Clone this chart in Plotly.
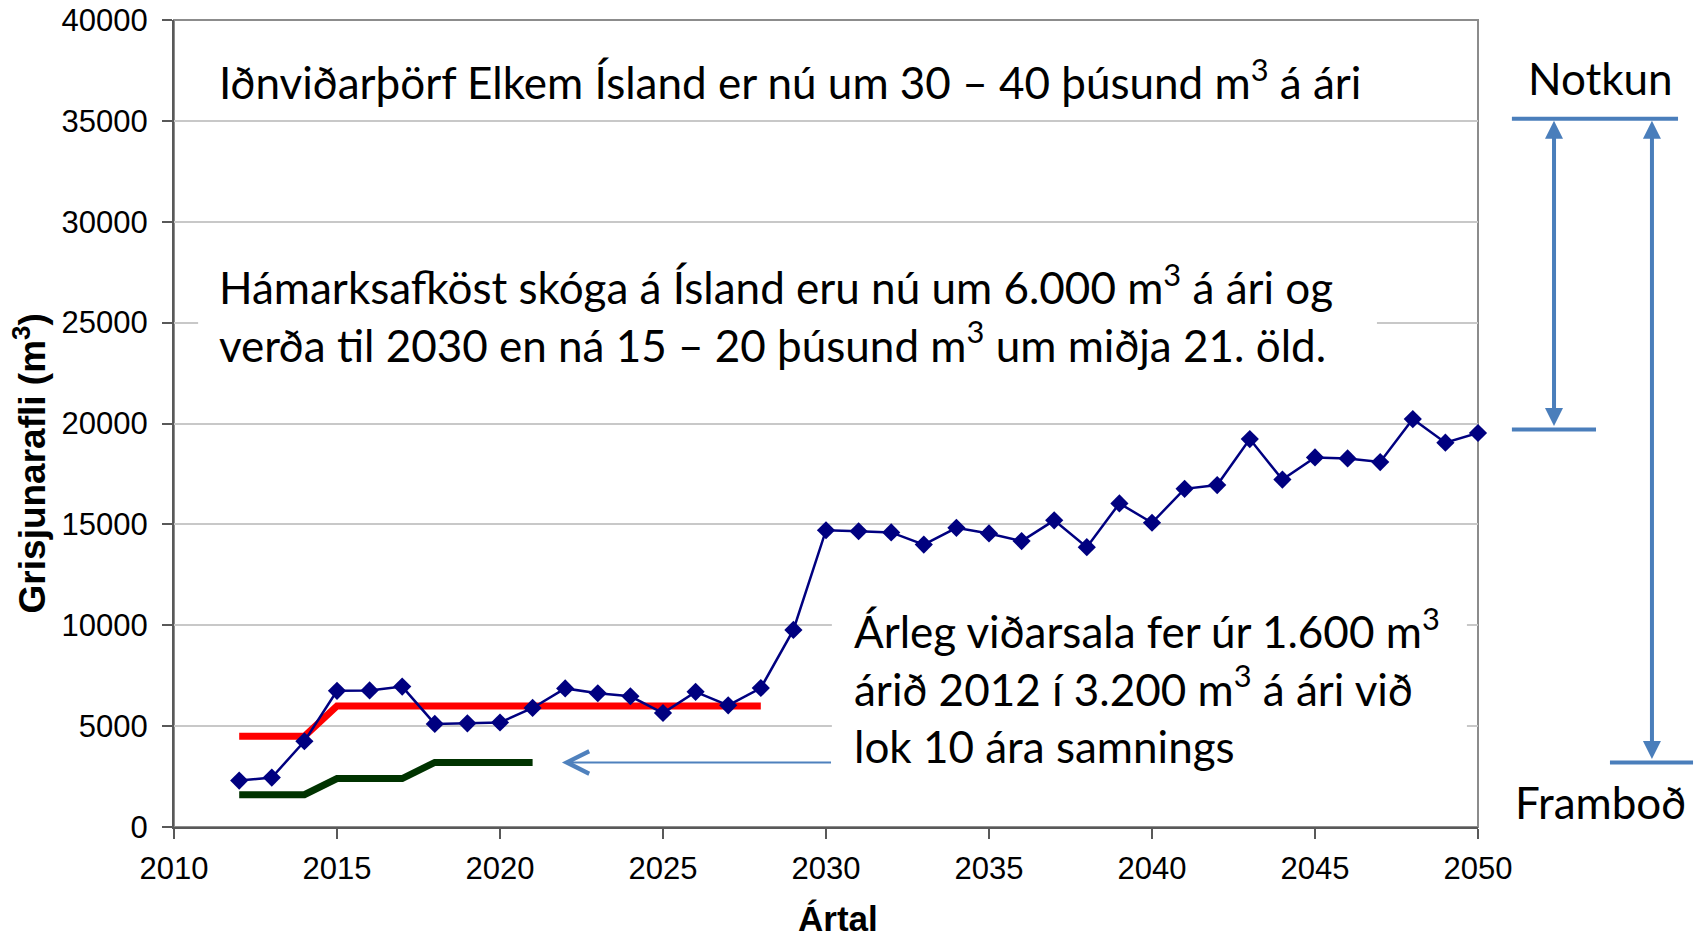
import plotly.graph_objects as go

# ---------------- data ----------------
years_demand = list(range(2012, 2051))
harvest = [2300, 2450, 4250, 6750, 6770, 6960, 5110, 5140, 5180, 5900,
           6870, 6630, 6480, 5650, 6700, 6030, 6890, 9770, 14710, 14660,
           14600, 14000, 14830, 14550, 14170, 15200, 13870, 16040, 15080, 16760,
           16950, 19230, 17220, 18320, 18270, 18090, 20220, 19050, 19530]

years_max = list(range(2012, 2029))
max_harvest = [4500, 4500, 4500] + [6000] * 14

years_sales = list(range(2012, 2022))
sales = [1600, 1600, 1600, 2400, 2400, 2400, 3200, 3200, 3200, 3200]

y_ticks = list(range(0, 40001, 5000))
x_ticks = list(range(2010, 2051, 5))

# bracket levels on the right (Notkun / Framboð)
demand_level = 35100
supply_2050 = 19700
supply_now = 3200

YMAX = 40000
XMIN, XMAX = 2010, 2050

# ---------------- layout constants ----------------
W, H = 1700, 942
ML, MR, MT, MB = 174, 222, 20, 115
PLOT_H = H - MT - MB

TXT_FONT = "Lato, 'Open Sans', sans-serif"
TXT_SIZE = 44
AX_FONT = "'Liberation Sans', Arial, sans-serif"
BLUE = "#4A7EBB"

fig = go.Figure()

fig.add_trace(go.Scatter(x=years_max, y=max_harvest, mode="lines",
                         line=dict(color="#FF0000", width=7), hoverinfo="skip"))
fig.add_trace(go.Scatter(x=years_sales, y=sales, mode="lines",
                         line=dict(color="#003300", width=7), hoverinfo="skip"))
fig.add_trace(go.Scatter(x=years_demand, y=harvest, mode="lines+markers",
                         line=dict(color="#000080", width=2.5),
                         marker=dict(symbol="diamond", size=14, color="#000080"),
                         cliponaxis=False))

shapes = []
# white text boxes covering gridlines
shapes.append(dict(type="rect", xref="x", yref="y", x0=2010.74, x1=2046.9, y0=22000, y1=28500,
                   fillcolor="white", line=dict(width=0), layer="between"))
shapes.append(dict(type="rect", xref="x", yref="y", x0=2030.18, x1=2049.66, y0=2750, y1=11250,
                   fillcolor="white", line=dict(width=0), layer="between"))
# plot border
shapes.append(dict(type="rect", xref="paper", yref="paper", x0=0, x1=1, y0=0, y1=1,
                   line=dict(color="#8c8c8c", width=2), layer="below"))


def yp(v):
    return v / YMAX


# right-hand brackets
shapes.append(dict(type="line", xref="paper", yref="paper", x0=1.026, x1=1.1534,
                   y0=yp(demand_level), y1=yp(demand_level), line=dict(color=BLUE, width=4)))
shapes.append(dict(type="line", xref="paper", yref="paper", x0=1.026, x1=1.0905,
                   y0=yp(supply_2050), y1=yp(supply_2050), line=dict(color=BLUE, width=4)))
shapes.append(dict(type="line", xref="paper", yref="paper", x0=1.1012, x1=1.1649,
                   y0=yp(supply_now), y1=yp(supply_now), line=dict(color=BLUE, width=4)))

annotations = []


def px_len(v0, v1):
    return (v0 - v1) / YMAX * PLOT_H


for xp, low in [(1.0583, supply_2050), (1.1334, supply_now)]:
    annotations.append(dict(xref="paper", yref="paper", x=xp, y=yp(demand_level),
                            ax=0, ay=px_len(demand_level, low), axref="pixel", ayref="pixel",
                            text="", showarrow=True, arrowhead=2, startarrowhead=2,
                            arrowside="end+start", arrowsize=0.9, startarrowsize=0.9,
                            arrowwidth=4, arrowcolor=BLUE, standoff=2, startstandoff=2))

annotations.append(dict(xref="paper", yref="paper", x=1.0936, y=0.928, text="Notkun",
                        showarrow=False, font=dict(family=TXT_FONT, size=TXT_SIZE, color="black"),
                        xanchor="center", yanchor="middle"))
annotations.append(dict(xref="paper", yref="paper", x=1.0936, y=0.031, text="Framboð",
                        showarrow=False, font=dict(family=TXT_FONT, size=TXT_SIZE, color="black"),
                        xanchor="center", yanchor="middle"))

# sales arrow
annotations.append(dict(xref="x", yref="y", x=2021.9, y=supply_now, axref="x", ayref="y",
                        ax=2030.2, ay=supply_now, text="", showarrow=True, arrowhead=5,
                        arrowsize=2.2, arrowwidth=2, arrowcolor="#4F81BD"))

# text blocks
annotations.append(dict(xref="x", yref="y", x=2011.32, y=37050, xanchor="left", yanchor="middle",
                        text="Iðnviðarþörf Elkem Ísland er nú um 30 – 40 þúsund m<sup>3</sup> á ári",
                        showarrow=False, align="left",
                        font=dict(family=TXT_FONT, size=TXT_SIZE, color="black")))
annotations.append(dict(xref="x", yref="y", x=2011.32, y=25470, xanchor="left", yanchor="middle",
                        text="Hámarksafköst skóga á Ísland eru nú um 6.000 m<sup>3</sup> á ári og<br>"
                             "verða til 2030 en ná 15 – 20 þúsund m<sup>3</sup> um miðja 21. öld.",
                        showarrow=False, align="left",
                        font=dict(family=TXT_FONT, size=TXT_SIZE, color="black")))
annotations.append(dict(xref="x", yref="y", x=2030.8, y=7000, xanchor="left", yanchor="middle",
                        text="Árleg viðarsala fer úr 1.600 m<sup>3</sup><br>"
                             "árið 2012 í 3.200 m<sup>3</sup> á ári við<br>lok 10 ára samnings",
                        showarrow=False, align="left",
                        font=dict(family=TXT_FONT, size=TXT_SIZE, color="black")))

# axis titles
annotations.append(dict(xref="paper", yref="paper", x=-0.11, y=0.45, textangle=-90,
                        text="<b>Grisjunarafli (m<sup>3</sup>)</b>", showarrow=False,
                        xanchor="center", yanchor="middle",
                        font=dict(family=AX_FONT, size=37, color="black")))
annotations.append(dict(xref="paper", yref="paper", x=0.5094, y=-0.113, text="<b>Ártal</b>",
                        showarrow=False, xanchor="center", yanchor="middle",
                        font=dict(family=AX_FONT, size=35, color="black")))

fig.update_layout(
    width=W, height=H, autosize=False,
    margin=dict(l=ML, r=MR, t=MT, b=MB, pad=0, autoexpand=False),
    paper_bgcolor="white", plot_bgcolor="white",
    showlegend=False,
    shapes=shapes, annotations=annotations,
    font=dict(family=AX_FONT, size=31, color="black"),
)
fig.update_xaxes(range=[XMIN, XMAX], tickvals=x_ticks, ticktext=[str(t) for t in x_ticks],
                 showgrid=False, zeroline=False, showline=True, linecolor="#595959", linewidth=2,
                 ticks="outside", ticklen=10, tickwidth=1.5, tickcolor="#595959",
                 tickfont=dict(size=31), ticklabelstandoff=3, automargin=False)
fig.update_yaxes(range=[0, YMAX], tickvals=y_ticks, ticktext=[str(t) for t in y_ticks],
                 showgrid=True, gridcolor="#c8c8c8", gridwidth=1.5, zeroline=False,
                 showline=True, linecolor="#595959", linewidth=2,
                 ticks="outside", ticklen=10, tickwidth=1.5, tickcolor="#595959",
                 tickfont=dict(size=31), ticklabelstandoff=8, automargin=False)

fig.write_html("out.html", config={"displayModeBar": False},
               post_script="document.body.style.margin='0';document.body.style.overflow='hidden';")
